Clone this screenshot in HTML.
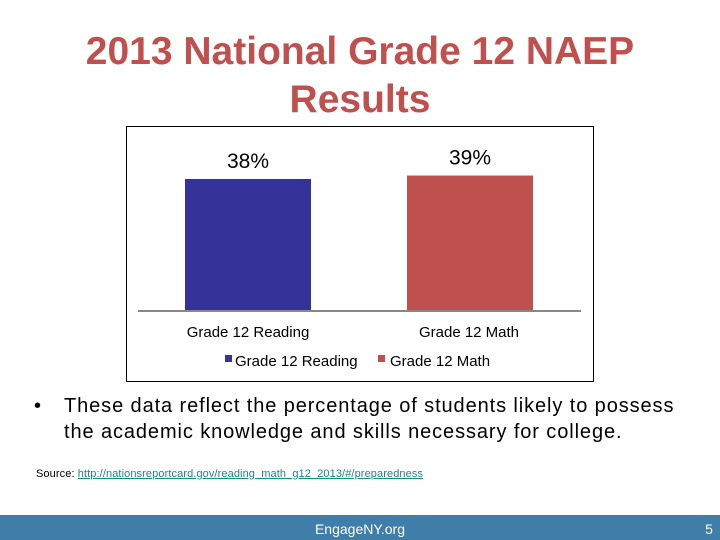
<!DOCTYPE html>
<html><head><meta charset="utf-8"><style>
body{margin:0;width:720px;height:540px;overflow:hidden;background:#fff;font-family:"Liberation Sans",sans-serif;position:relative}
.t{position:absolute;left:0;width:720px;text-align:center;color:#c0504d;font-size:39px;font-weight:bold;line-height:48px;top:28px}
</style></head><body>
<div class="t">2013 National Grade 12 NAEP<br>Results</div>
<svg width="720" height="540" style="position:absolute;left:0;top:0">
<rect x="126.5" y="126.5" width="467" height="255" fill="#fff" stroke="#000"/>
<g id="bars"></g>
<line x1="138" y1="311" x2="581" y2="311" stroke="#888" stroke-width="2"/>
<g font-size="15" fill="#000" text-anchor="middle">
<text x="248" y="337">Grade 12 Reading</text>
<text x="469" y="337">Grade 12 Math</text>
</g>
<g font-size="15" fill="#000">
<rect x="225" y="355" width="7" height="7" fill="#333399"/>
<text x="235" y="366">Grade 12 Reading</text>
<rect x="378" y="355" width="7" height="7" fill="#c0504d"/>
<text x="390" y="366">Grade 12 Math</text>
</g>
<rect x="0" y="515" width="720" height="25" fill="#3f7ea8"/>
<text x="360" y="534" text-anchor="middle" font-size="14" fill="#fff">EngageNY.org</text>
<text x="709" y="534" text-anchor="middle" font-size="14" fill="#fff">5</text>
</svg>
<div style="position:absolute;left:34px;top:393px;font-size:20px;line-height:26px;color:#000;width:680px;letter-spacing:0.9px;white-space:nowrap">
<span style="position:absolute;left:0">•</span><div style="margin-left:30px">These data reflect the percentage of students likely to possess<br>the academic knowledge and skills necessary for college.</div></div>
<div style="position:absolute;left:36px;top:468px;font-size:11px;color:#000;letter-spacing:0.1px">Source: <span style="color:#1a8a7a;text-decoration:underline">http://nationsreportcard.gov/reading_math_g12_2013/#/preparedness</span></div>
<script>
const categories=["Grade 12 Reading","Grade 12 Math"];
const values=[38,39];
const valueLabels=["38%","39%"];
const colors=["#333399","#c0504d"];
const base=311, k=3.474, centers=[248,470], bw=126;
const y=v=>base-v*k;
const g=document.getElementById('bars');
values.forEach((v,i)=>{
 const r=document.createElementNS('http://www.w3.org/2000/svg','rect');
 r.setAttribute('x',centers[i]-bw/2);r.setAttribute('y',y(v));
 r.setAttribute('width',bw);r.setAttribute('height',base-y(v));r.setAttribute('fill',colors[i]);
 
 
 g.appendChild(r);
 const t=document.createElementNS('http://www.w3.org/2000/svg','text');
 t.setAttribute('x',centers[i]);t.setAttribute('y',y(v)-11);t.setAttribute('text-anchor','middle');
 t.setAttribute('font-size','21');t.textContent=valueLabels[i];
 
 
 g.appendChild(t);
});
</script>
</body></html>
